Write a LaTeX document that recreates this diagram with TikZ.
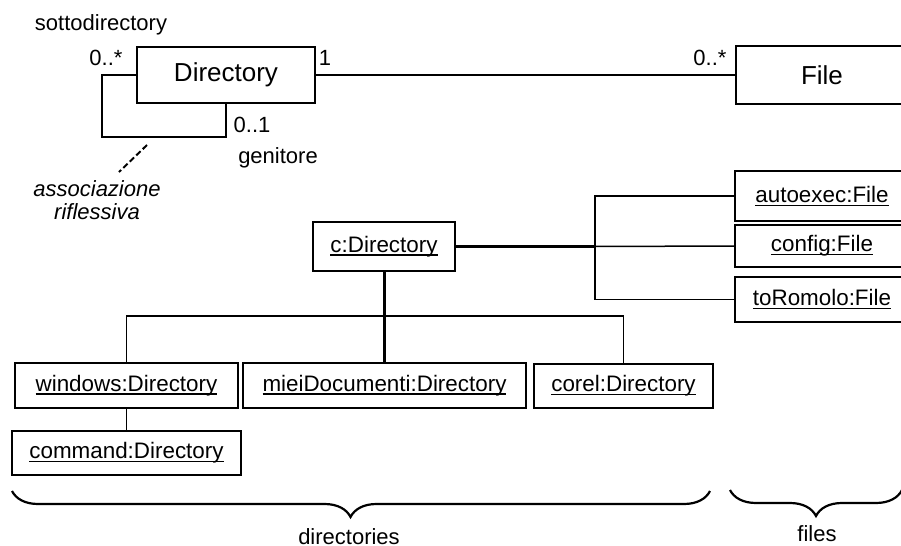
\documentclass[tikz,border=0pt]{standalone}
\usepackage{fontspec}
\setmainfont{Liberation Sans}
\usetikzlibrary{decorations.pathreplacing}

% underlined object name, rule close to the baseline
\newcommand{\objname}[1]{\setbox0\hbox{#1}\rlap{\rule[-1.8pt]{\wd0}{0.7pt}}\box0}

\begin{document}
\begin{tikzpicture}[x=0.5pt,y=-0.5pt,
  classbox/.style={draw,line width=1pt,inner sep=0pt,font=\fontsize{13}{15}\selectfont},
  objbox/.style={draw,line width=1pt,inner sep=0pt,font=\fontsize{11.2}{13}\selectfont},
  lbl/.style={inner sep=0pt,anchor=base,font=\fontsize{11}{13}\selectfont},
  link/.style={line width=0.75pt},
  mainlink/.style={line width=1.5pt},
  groupbrace/.style={decorate,line width=1.1pt,decoration={brace,mirror,amplitude=13pt}}]

\useasboundingbox (0,0) rectangle (901,546);
\clip (0,0) rectangle (901,546);

% Class diagram
\node[classbox,minimum width=89pt,minimum height=28pt] (dir) at (226,75) {Directory};
\node[classbox,minimum width=86pt,minimum height=29pt] (file) at (822,75) {File};

\draw[link] (dir.east) -- (file.west);
\draw[link] (dir.west) -- ++(-34,0) -- ++(0,62) -| (dir.south);

% Roles and multiplicities
\node[lbl] (subdir) at (101,31) {sottodirectory};
\node[lbl] (msub) at (106,65) {0..*};
\node[lbl] (mone) at (325,65) {1};
\node[lbl] (mpar) at (252,132) {0..1};
\node[lbl] (parent) at (278,163) {genitore};
\node[lbl] (mfile) at (710,65) {0..*};

% Note on the self association
\node[inner sep=0pt,align=center,font=\fontsize{11}{11.5}\selectfont\itshape] (note) at (97,200) {associazione\\riflessiva};
\coordinate (refl) at (147,145);
\draw[line width=1pt,dash pattern=on 3pt off 1.5pt] (refl) -- ([xshift=11pt,yshift=4pt]note.north);

% Object diagram
\node[objbox,minimum width=71pt,minimum height=24.5pt] (croot) at (384,246.5) {\objname{c:Directory}};
\node[objbox,minimum width=87pt,minimum height=25pt] (autoexec) at (822,196) {\objname{autoexec:File}};
\node[objbox,minimum width=87pt,minimum height=21pt] (config) at (822,246) {\objname{config:File}};
\node[objbox,minimum width=87pt,minimum height=22.5pt] (toromolo) at (822,299.5) {\objname{toRomolo:File}};
\node[objbox,minimum width=111.5pt,minimum height=22.5pt] (windows) at (126.5,385.5) {\objname{windows:Directory}};
\node[objbox,minimum width=114.5pt,minimum height=22pt] (command) at (126.5,453) {\objname{command:Directory}};
\node[objbox,minimum width=141.5pt,minimum height=22.5pt] (miei) at (384.5,385.5) {\objname{mieiDocumenti:Directory}};
\node[objbox,minimum width=89.5pt,minimum height=22pt] (corel) at (623.5,386) {\objname{corel:Directory}};

% Links to the files
\coordinate (fbus) at (595,246.5);
\draw[mainlink] (croot.east) -- (fbus);
\draw[link] (autoexec.west) -- (autoexec.west -| fbus) -- (toromolo.west -| fbus) -- (toromolo.west);
\draw[link] (fbus) -- (config.west);

% Links to the subdirectories
\coordinate (dbus) at (384,316);
\draw[mainlink] (croot.south) -- (croot.south |- miei.north);
\draw[link] (windows.north) |- (dbus) -| (corel.north);
\draw[link] (windows.south) -- (command.north);

% Braces
\coordinate (dleft) at (12,491);
\coordinate (dright) at (710,491);
\coordinate (fleft) at (730,490);
\coordinate (fright) at (902,490);
\draw[groupbrace,decoration={aspect=0.485}] (dleft) -- (dright);
\draw[groupbrace] (fleft) -- (fright);
\node[lbl] (dirs) at (349,544) {directories};
\node[lbl] (files) at (817,541) {files};

\end{tikzpicture}
\end{document}
